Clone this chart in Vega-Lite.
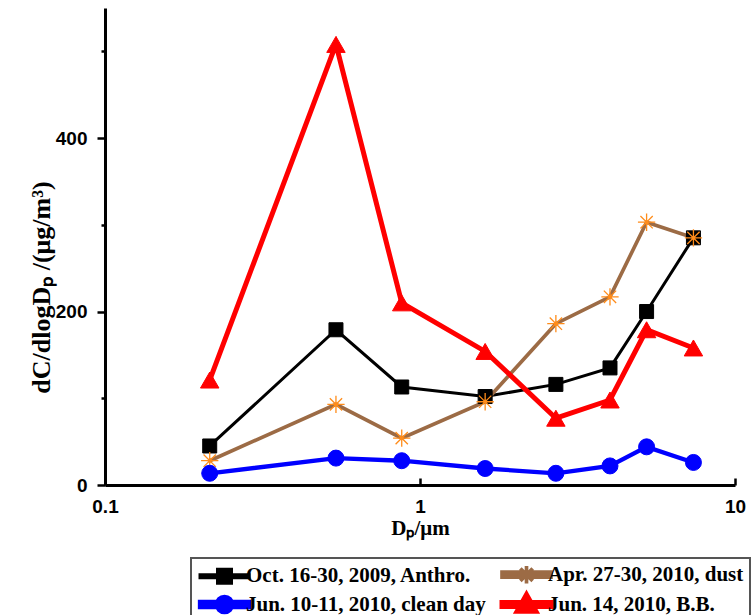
{
  "$schema": "https://vega.github.io/schema/vega-lite/v6.json",
  "width": 630,
  "height": 477,
  "autosize": {"type": "none"},
  "padding": {"left": 105, "top": 8, "right": 16, "bottom": 130},
  "background": "white",
  "config": {"view": {"stroke": null}, "legend": {"strokeWidth": 2}},
  "data": {
    "values": [
      {"series": "Oct. 16-30, 2009, Anthro.", "dp": 0.215, "c": 45},
      {"series": "Oct. 16-30, 2009, Anthro.", "dp": 0.541, "c": 179},
      {"series": "Oct. 16-30, 2009, Anthro.", "dp": 0.875, "c": 113},
      {"series": "Oct. 16-30, 2009, Anthro.", "dp": 1.61, "c": 102},
      {"series": "Oct. 16-30, 2009, Anthro.", "dp": 2.70, "c": 116},
      {"series": "Oct. 16-30, 2009, Anthro.", "dp": 4.01, "c": 135},
      {"series": "Oct. 16-30, 2009, Anthro.", "dp": 5.24, "c": 200},
      {"series": "Oct. 16-30, 2009, Anthro.", "dp": 7.38, "c": 285},
      {"series": "Apr. 27-30, 2010, dust", "dp": 0.215, "c": 28},
      {"series": "Apr. 27-30, 2010, dust", "dp": 0.541, "c": 93},
      {"series": "Apr. 27-30, 2010, dust", "dp": 0.875, "c": 54},
      {"series": "Apr. 27-30, 2010, dust", "dp": 1.61, "c": 96},
      {"series": "Apr. 27-30, 2010, dust", "dp": 2.70, "c": 186},
      {"series": "Apr. 27-30, 2010, dust", "dp": 4.01, "c": 217},
      {"series": "Apr. 27-30, 2010, dust", "dp": 5.24, "c": 303},
      {"series": "Apr. 27-30, 2010, dust", "dp": 7.38, "c": 285},
      {"series": "Jun. 10-11, 2010, clean day", "dp": 0.215, "c": 13.5},
      {"series": "Jun. 10-11, 2010, clean day", "dp": 0.541, "c": 31},
      {"series": "Jun. 10-11, 2010, clean day", "dp": 0.875, "c": 28},
      {"series": "Jun. 10-11, 2010, clean day", "dp": 1.61, "c": 19},
      {"series": "Jun. 10-11, 2010, clean day", "dp": 2.70, "c": 13.5},
      {"series": "Jun. 10-11, 2010, clean day", "dp": 4.01, "c": 22},
      {"series": "Jun. 10-11, 2010, clean day", "dp": 5.24, "c": 44},
      {"series": "Jun. 10-11, 2010, clean day", "dp": 7.38, "c": 26},
      {"series": "Jun. 14, 2010, B.B.", "dp": 0.215, "c": 121},
      {"series": "Jun. 14, 2010, B.B.", "dp": 0.541, "c": 508},
      {"series": "Jun. 14, 2010, B.B.", "dp": 0.875, "c": 210},
      {"series": "Jun. 14, 2010, B.B.", "dp": 1.61, "c": 154},
      {"series": "Jun. 14, 2010, B.B.", "dp": 2.70, "c": 77},
      {"series": "Jun. 14, 2010, B.B.", "dp": 4.01, "c": 98},
      {"series": "Jun. 14, 2010, B.B.", "dp": 5.24, "c": 179},
      {"series": "Jun. 14, 2010, B.B.", "dp": 7.38, "c": 158}
    ]
  },
  "encoding": {
    "x": {
      "field": "dp", "type": "quantitative",
      "scale": {"type": "log", "domain": [0.1, 10], "nice": false},
      "axis": {
        "values": [0.1, 1, 10], "format": "~g", "grid": false,
        "domainWidth": 3, "domainColor": "black", "tickColor": "black", "tickWidth": 2.5,
        "tickSize": -7, "labelPadding": 19,
        "labelFont": "Liberation Sans", "labelFontWeight": "bold", "labelFontSize": 19, "labelColor": "black",
        "labelFlush": false, "labelOverlap": false,
        "title": "Dₚ/μm", "titleFont": "Liberation Serif", "titleFontSize": 21, "titleFontWeight": "bold",
        "titleColor": "black", "titlePadding": 1
      }
    },
    "y": {
      "field": "c", "type": "quantitative",
      "scale": {"domain": [0, 550], "nice": false},
      "axis": {
        "values": [0, 100, 200, 300, 400, 500],
        "labelExpr": "datum.value % 200 === 0 ? datum.label : ''",
        "tickSize": {"condition": {"test": "datum.value % 200 === 0", "value": 8}, "value": 4},
        "grid": false, "domainWidth": 3, "domainColor": "black", "tickColor": "black", "tickWidth": 2.5,
        "labelPadding": 10,
        "labelFont": "Liberation Sans", "labelFontWeight": "bold", "labelFontSize": 19, "labelColor": "black",
        "labelFlush": false, "labelOverlap": false,
        "title": "dC/dlogDₚ /(μg/m³)", "titleFont": "Liberation Serif", "titleFontSize": 26,
        "titleFontWeight": "bold", "titleColor": "black",
        "titleX": -56, "titleY": 279, "titleAngle": -90, "titleBaseline": "alphabetic", "titleAlign": "center"
      }
    }
  },
  "layer": [
    {
      "mark": {"type": "line"},
      "encoding": {
        "color": {
          "field": "series", "type": "nominal",
          "scale": {
            "domain": ["Oct. 16-30, 2009, Anthro.", "Apr. 27-30, 2010, dust", "Jun. 10-11, 2010, clean day", "Jun. 14, 2010, B.B."],
            "range": ["#000000", "#9C6B45", "#0000FF", "#FF0000"]
          },
          "legend": {
            "title": null, "orient": "none", "legendX": 86, "legendY": 550, "columns": 2,
            "direction": "horizontal",
            "padding": 6, "strokeColor": "#555555", "fillColor": "white",
            "labelFont": "Liberation Serif", "labelFontWeight": "bold", "labelFontSize": 21, "labelColor": "black",
            "labelLimit": 500, "labelOffset": 28, "columnPadding": 6, "rowPadding": -7,
            "symbolSize": 196, "symbolStrokeWidth": 1, "symbolOpacity": 1
          }
        },
        "strokeWidth": {
          "field": "series", "type": "nominal",
          "scale": {
            "domain": ["Oct. 16-30, 2009, Anthro.", "Apr. 27-30, 2010, dust", "Jun. 10-11, 2010, clean day", "Jun. 14, 2010, B.B."],
            "range": [3, 5, 5, 4]
          },
          "legend": null
        }
      }
    },
    {
      "transform": [{"filter": "datum.c < 0"}],
      "mark": {"type": "point", "filled": true, "opacity": 1, "strokeWidth": 1},
      "encoding": {
        "color": {"field": "series", "type": "nominal"},
        "shape": {
          "field": "series", "type": "nominal",
          "scale": {
            "domain": ["Oct. 16-30, 2009, Anthro.", "Apr. 27-30, 2010, dust", "Jun. 10-11, 2010, clean day", "Jun. 14, 2010, B.B."],
            "range": [
              "M-1.07,-0.21H5.93V0.21H-1.07Z M1.43,-1H3.43V1H1.43Z",
              "M-1.07,-0.36H5.93V0.36H-1.07Z M1.18,0H3.68M2.43,-1.25V1.25M1.55,-0.88L3.31,0.88M1.55,0.88L3.31,-0.88",
              "M-1.07,-0.36H5.93V0.36H-1.07Z M1.33,0A1.1,1.1 0 1 1 3.53,0A1.1,1.1 0 1 1 1.33,0Z",
              "M-1.07,-0.29H5.93V0.29H-1.07Z M2.43,-1.4L3.76,0.95L1.1,0.95Z"
            ]
          },
          "legend": null
        },
        "stroke": {
          "field": "series", "type": "nominal",
          "scale": {
            "domain": ["Oct. 16-30, 2009, Anthro.", "Apr. 27-30, 2010, dust", "Jun. 10-11, 2010, clean day", "Jun. 14, 2010, B.B."],
            "range": ["#000000", "#FF8C1A", "#0000FF", "#FF0000"]
          },
          "legend": null
        }
      }
    },
    {
      "transform": [{"filter": "indexof(datum.series, 'Anthro') >= 0"}],
      "mark": {"type": "point", "shape": "square", "filled": true, "fill": "#000000", "stroke": "#000000", "strokeWidth": 1, "size": 196, "opacity": 1},
      "encoding": {"x": {"field": "dp", "type": "quantitative"}}
    },
    {
      "transform": [{"filter": "indexof(datum.series, 'dust') >= 0"}],
      "mark": {"type": "point", "shape": "M-1,0H1M0,-1V1M-0.71,-0.71L0.71,0.71M-0.71,0.71L0.71,-0.71M-0.15,-0.15H0.15V0.15H-0.15Z", "filled": false, "fill": "#FF8C1A", "stroke": "#FF8C1A", "strokeWidth": 1.3, "size": 300, "opacity": 1},
      "encoding": {"x": {"field": "dp", "type": "quantitative"}}
    },
    {
      "transform": [{"filter": "indexof(datum.series, 'clean') >= 0"}],
      "mark": {"type": "point", "shape": "circle", "filled": true, "fill": "#0000FF", "stroke": "#0000FF", "strokeWidth": 1, "size": 256, "opacity": 1},
      "encoding": {"x": {"field": "dp", "type": "quantitative"}}
    },
    {
      "transform": [{"filter": "indexof(datum.series, 'B.B.') >= 0"}],
      "mark": {"type": "point", "shape": "triangle-up", "filled": true, "fill": "#FF0000", "stroke": "#FF0000", "strokeWidth": 1, "size": 340, "opacity": 1},
      "encoding": {"x": {"field": "dp", "type": "quantitative"}}
    }
  ]
}
